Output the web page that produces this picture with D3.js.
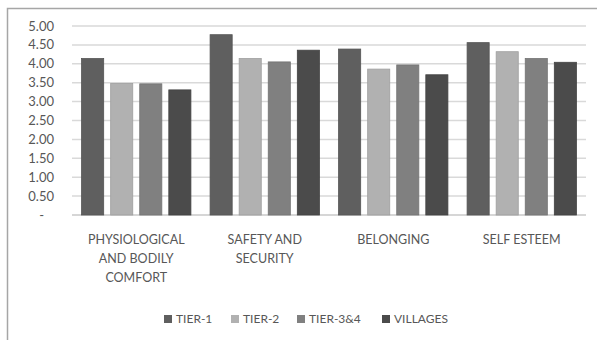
<!DOCTYPE html>
<meta charset="utf-8">
<style>
  body { margin: 0; background: #fff; }
  text { font-family: Lato, "Open Sans", sans-serif; fill: #575757; }
</style>
<body>
<svg width="597" height="340"></svg>

<script src="https://cdn.jsdelivr.net/npm/d3@7"></script>
<script>

// categories, series and values
var categories = ["PHYSIOLOGICAL AND BODILY COMFORT", "SAFETY AND SECURITY", "BELONGING", "SELF ESTEEM"];
var categoryLines = [["PHYSIOLOGICAL", "AND BODILY", "COMFORT"], ["SAFETY AND", "SECURITY"], ["BELONGING"], ["SELF ESTEEM"]];
var series = ["TIER-1", "TIER-2", "TIER-3&4", "VILLAGES"];
var tier1    = [4.14, 4.77, 4.39, 4.56];
var tier2    = [3.48, 4.14, 3.86, 4.32];
var tier34   = [3.47, 4.05, 3.97, 4.14];
var villages = [3.31, 4.36, 3.71, 4.04];
var yTicks = [0, 0.5, 1, 1.5, 2, 2.5, 3, 3.5, 4, 4.5, 5];
var colors = ["#5f5f5f", "#b1b1b1", "#808080", "#4b4b4b"];

var values = [tier1, tier2, tier34, villages];

var svg = d3.select("svg"),
    margin = {top: 26, right: 11, bottom: 125, left: 72},
    width  = +svg.attr("width") - margin.left - margin.right,
    height = +svg.attr("height") - margin.top - margin.bottom;

// chart frame (only top and left edges are in view)
svg.append("path")
    .attr("d", "M7.5,340V8.5H597")
    .attr("fill", "none")
    .attr("stroke", "#a6a6a6")
    .attr("stroke-width", 1.5);

var x0 = d3.scaleBand().domain(categories).range([0, width]);
var x1 = d3.scaleBand().domain(series).range([0, x0.bandwidth()])
    .paddingInner(0.24).paddingOuter(0.33);
var y  = d3.scaleLinear().domain([0, 5]).range([height, 0]);

var g = svg.append("g")
    .attr("transform", "translate(" + margin.left + "," + margin.top + ")");

// gridlines
g.append("g").selectAll("line")
    .data(yTicks)
    .enter().append("line")
    .attr("x1", 0)
    .attr("x2", width)
    .attr("y1", function(d) { return y(d); })
    .attr("y2", function(d) { return y(d); })
    .attr("stroke", function(d) { return d === 0 ? "#c8c8c8" : "#d9d9d9"; })
    .attr("stroke-width", 1.5);

// y labels
var fmt = d3.format(".2f");
g.append("g").selectAll("text")
    .data(yTicks)
    .enter().append("text")
    .attr("x", function(d) { return d === 0 ? -28 : -18; })
    .attr("y", function(d) { return y(d); })
    .attr("dy", "0.35em")
    .attr("text-anchor", "end")
    .style("font-size", "13px")
    .text(function(d) { return d === 0 ? "-" : fmt(d); });

// bars
var groups = g.append("g").selectAll("g")
    .data(categories)
    .enter().append("g")
    .attr("transform", function(d) { return "translate(" + x0(d) + ",0)"; });

groups.selectAll("rect")
    .data(function(d, i) { return series.map(function(s, j) { return {s: s, j: j, v: values[j][i]}; }); })
    .enter().append("rect")
    .attr("x", function(d) { return x1(d.s); })
    .attr("y", function(d) { return y(d.v); })
    .attr("width", x1.bandwidth())
    .attr("height", function(d) { return height - y(d.v); })
    .attr("fill", function(d) { return colors[d.j]; })
    .attr("stroke", function(d) { return d3.color(colors[d.j]).darker(0.3); })
    .attr("stroke-width", 0.8);

// category labels
var labels = g.append("g").selectAll("text")
    .data(categories)
    .enter().append("text")
    .attr("x", function(d) { return x0(d) + x0.bandwidth() / 2; })
    .attr("y", height + 29)
    .attr("text-anchor", "middle")
    .style("font-size", "12.5px");

labels.selectAll("tspan")
    .data(function(d, i) { return categoryLines[i]; })
    .enter().append("tspan")
    .attr("x", function() { return d3.select(this.parentNode).attr("x"); })
    .attr("dy", function(d, i) { return i === 0 ? 0 : 19; })
    .text(function(d) { return d; });

// legend
var legendX = [164, 231, 297, 382];
var legend = svg.append("g").selectAll("g")
    .data(series)
    .enter().append("g")
    .attr("transform", function(d, i) { return "translate(" + legendX[i] + ",315)"; });

legend.append("rect")
    .attr("width", 8)
    .attr("height", 8)
    .attr("fill", function(d, i) { return colors[i]; });

legend.append("text")
    .attr("x", 12)
    .attr("y", 4)
    .attr("dy", "0.35em")
    .style("font-size", "12px")
    .text(function(d) { return d; });

</script>
</body>
